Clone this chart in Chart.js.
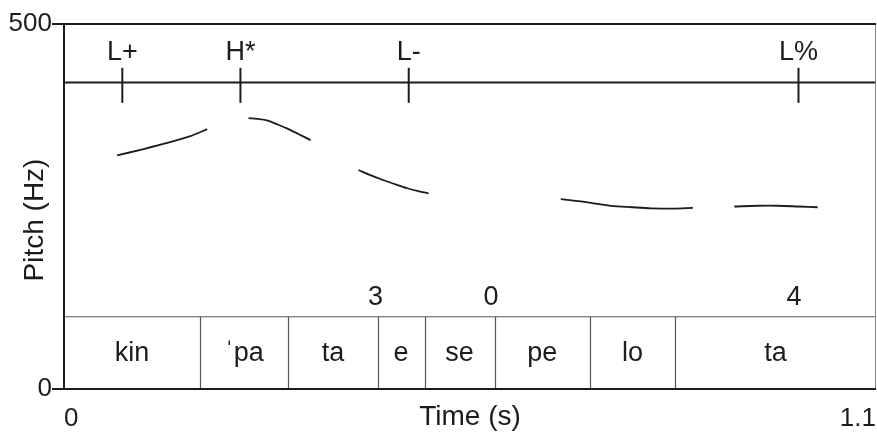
<!DOCTYPE html>
<html>
<head>
<meta charset="utf-8">
<script src="https://cdn.jsdelivr.net/npm/chart.js@4/dist/chart.umd.min.js"></script>
<style>
  html, body { margin: 0; padding: 0; background: #fff; }
</style>
</head>
<body>
<canvas id="pitch-chart" width="877" height="434"></canvas>
<script>
// pitch contour (s, Hz) - null breaks the line between voiced stretches
const pitchTimes = [0.072, 0.105, 0.14, 0.17, 0.194, null,
  0.250, 0.262, 0.275, 0.29, 0.302, 0.318, 0.334, null,
  0.399, 0.415, 0.433, 0.45, 0.465, 0.48, 0.494, null,
  0.673, 0.70, 0.741, 0.77, 0.795, 0.825, 0.852, null,
  0.908, 0.94, 0.967, 0.995, 1.021];
const pitchHz = [320, 328, 337, 346, 356, null,
  371, 370, 368, 362, 357, 349, 341, null,
  300, 293, 286, 280, 275, 271, 268, null,
  260, 257, 251, 249, 247.5, 247, 248, null,
  250, 251, 251, 250, 249];

// tone tier
const toneLabels = ['L+', 'H*', 'L-', 'L%'];
const toneTimes = [0.079, 0.239, 0.467, 0.995];

// syllable tier
const syllables = ['kin', 'ˈpa', 'ta', 'e', 'se', 'pe', 'lo', 'ta'];
const syllableBounds = [0, 0.1845, 0.304, 0.4247, 0.4885, 0.5834, 0.7123, 0.8277, 1.1];

// break indices
const breakLabels = ['3', '0', '4'];
const breakTimes = [0.422, 0.5785, 0.989];

const xTicks = [0, 1.1];
const yTicks = [0, 500];

// tier layout, in Hz units of the y axis
const TONE_LINE = 420, TONE_LABEL = 461, MARK_TOP = 440, MARK_BOTTOM = 392;
const SYL_TOP = 99, SYL_LABEL = 49, BREAK_LABEL = 125;

const INK = '#1c1c1c';
const FONT = '"Liberation Sans", Arial, sans-serif';

const tiersPlugin = {
  id: 'tiers',
  afterDatasetsDraw(chart) {
    const ctx = chart.ctx, a = chart.chartArea;
    const X = v => chart.scales.x.getPixelForValue(v);
    const Y = v => chart.scales.y.getPixelForValue(v);
    ctx.save();
    ctx.lineCap = 'butt';

    // tone tier line + marks
    ctx.strokeStyle = INK; ctx.lineWidth = 2;
    ctx.beginPath(); ctx.moveTo(a.left, Y(TONE_LINE)); ctx.lineTo(a.right, Y(TONE_LINE)); ctx.stroke();
    ctx.font = '27px ' + FONT; ctx.fillStyle = INK;
    ctx.textAlign = 'center'; ctx.textBaseline = 'middle';
    toneTimes.forEach((t, i) => {
      ctx.beginPath(); ctx.moveTo(X(t), Y(MARK_TOP)); ctx.lineTo(X(t), Y(MARK_BOTTOM)); ctx.stroke();
      ctx.fillText(toneLabels[i], X(t), Y(TONE_LABEL));
    });

    // syllable tier
    ctx.strokeStyle = '#555'; ctx.lineWidth = 1.2;
    ctx.beginPath(); ctx.moveTo(a.left, Y(SYL_TOP)); ctx.lineTo(a.right, Y(SYL_TOP)); ctx.stroke();
    for (let i = 1; i < syllableBounds.length - 1; i++) {
      const x = Math.round(X(syllableBounds[i])) + 0.5;
      ctx.beginPath(); ctx.moveTo(x, Y(SYL_TOP)); ctx.lineTo(x, Y(0)); ctx.stroke();
    }
    syllables.forEach((s, i) => {
      ctx.fillText(s, X((syllableBounds[i] + syllableBounds[i + 1]) / 2), Y(SYL_LABEL));
    });
    breakTimes.forEach((t, i) => ctx.fillText(breakLabels[i], X(t), Y(BREAK_LABEL)));

    // frame
    ctx.strokeStyle = '#888'; ctx.lineWidth = 1;
    ctx.beginPath(); ctx.moveTo(a.right - 0.5, a.top); ctx.lineTo(a.right - 0.5, a.bottom); ctx.stroke();
    ctx.strokeStyle = INK; ctx.lineWidth = 2;
    ctx.beginPath();
    ctx.moveTo(a.right, a.top); ctx.lineTo(a.left, a.top); ctx.lineTo(a.left, a.bottom); ctx.lineTo(a.right, a.bottom);
    ctx.stroke();

    // axis titles
    ctx.font = '28px ' + FONT;
    ctx.fillText('Time (s)', (a.left + a.right) / 2, 417);
    ctx.translate(35, 220); ctx.rotate(-Math.PI / 2);
    ctx.fillText('Pitch (Hz)', 0, 0);
    ctx.restore();
  }
};

new Chart(document.getElementById('pitch-chart').getContext('2d'), {
  type: 'line',
  data: {
    datasets: [{
      data: pitchTimes.map((t, i) => ({ x: t, y: pitchHz[i] })),
      borderColor: INK, borderWidth: 1.8, pointRadius: 0, tension: 0.3, spanGaps: false
    }]
  },
  options: {
    responsive: false, animation: false, devicePixelRatio: 1,
    layout: { padding: { top: 24, right: 1, left: 0, bottom: 0 } },
    plugins: { legend: { display: false }, tooltip: { enabled: false } },
    scales: {
      x: {
        type: 'linear', min: 0, max: 1.1,
        afterBuildTicks: s => { s.ticks = xTicks.map(v => ({ value: v })); },
        afterFit: s => { s.height = 45; s.paddingLeft = 0; s.paddingRight = 0; },
        grid: { display: false }, border: { display: false },
        ticks: { align: 'inner', maxRotation: 0, autoSkip: false, padding: 6, color: INK,
                 font: { size: 26, family: FONT }, callback: v => String(v) }
      },
      y: {
        min: 0, max: 500,
        afterBuildTicks: s => { s.ticks = yTicks.map(v => ({ value: v })); },
        afterFit: s => { s.width = 64; },
        grid: { drawOnChartArea: false, drawTicks: true, tickLength: 12, color: INK, lineWidth: 2 },
        border: { display: false },
        ticks: { padding: 0, color: INK, font: { size: 26, family: FONT } }
      }
    }
  },
  plugins: [tiersPlugin]
});
</script>
</body>
</html>
